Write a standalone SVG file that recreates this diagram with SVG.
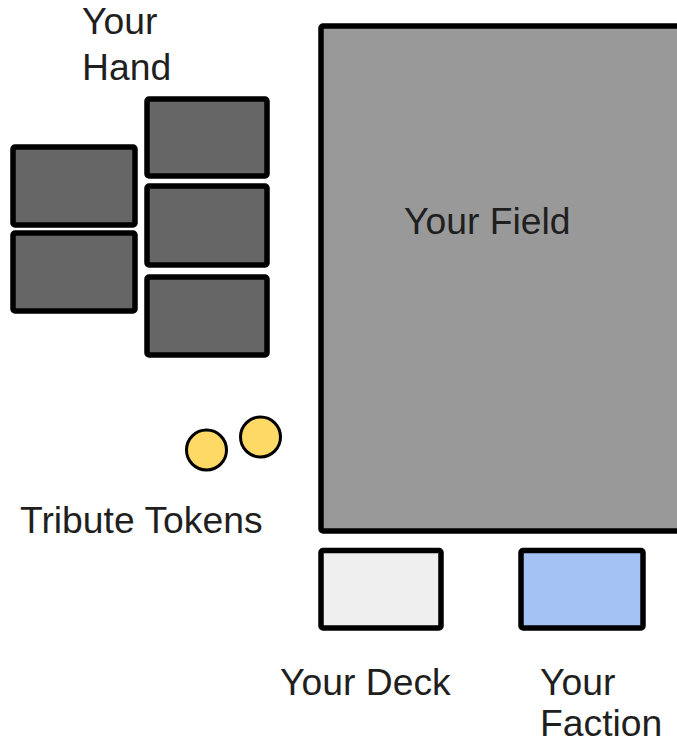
<svg xmlns="http://www.w3.org/2000/svg" width="677" height="744" viewBox="0 0 677 744">
<style>
.card{stroke:#000;stroke-width:5.5;stroke-linejoin:round}
.hand{fill:#666666}
.tok{fill:#ffd966;stroke:#000;stroke-width:3}
text{font-family:"Liberation Sans",Arial,sans-serif;font-size:37.3px;fill:#1f1f1f}
</style>
<rect width="677" height="744" fill="#fff"/>
<g id="field">
<rect class="card" x="321" y="26" width="370" height="505" rx="2" fill="#999999"/>
<text x="404" y="234">Your Field</text>
</g>
<g id="hand">
<rect class="card hand" x="13" y="147" width="122" height="78" rx="2"/>
<rect class="card hand" x="13" y="233" width="122" height="78" rx="2"/>
<rect class="card hand" x="147" y="99" width="120" height="77" rx="2"/>
<rect class="card hand" x="147" y="186" width="120" height="79" rx="2"/>
<rect class="card hand" x="147" y="277" width="120" height="78" rx="2"/>
<text x="82" y="34">Your</text>
<text x="82" y="80">Hand</text>
</g>
<g id="tokens">
<circle class="tok" cx="206.5" cy="450" r="20"/>
<circle class="tok" cx="260.5" cy="437" r="20"/>
<text x="20" y="533">Tribute Tokens</text>
</g>
<g id="deck">
<rect class="card" x="321" y="550.5" width="120" height="77.5" rx="2" fill="#efefef"/>
<text x="280" y="695">Your Deck</text>
</g>
<g id="faction">
<rect class="card" x="521" y="550.5" width="122" height="77.5" rx="2" fill="#a4c2f4"/>
<text x="540" y="695">Your</text>
<text x="540" y="736">Faction</text>
</g>
<g id="connectors"/>
</svg>
